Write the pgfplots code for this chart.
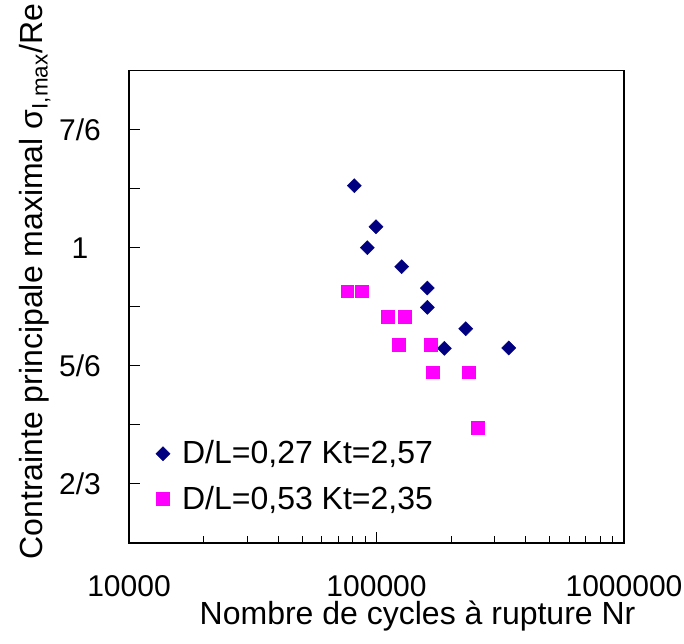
\documentclass[border=0pt]{standalone}
\usepackage{fontspec}
\setmainfont{Liberation Sans}
\usepackage{pgfplots}
\pgfplotsset{compat=1.18}
\definecolor{dnavy}{RGB}{0,0,128}
\definecolor{dmag}{RGB}{255,0,255}
\begin{document}
\begin{tikzpicture}
\path[use as bounding box] (-64.5pt,-50pt) rectangle (277.5pt,271.5pt);
\begin{axis}[
  scale only axis, width=247.5pt, height=236.25pt,
  xmode=log, xmin=1e4, xmax=1e6, ymin=0.583333, ymax=1.25,
  xtick={1e4,1e5,1e6}, xticklabels={10000,100000,1000000},
  ytick={0.666667,0.75,0.833333,0.916667,1,1.083333,1.166667},
  yticklabels={2/3,,5/6,,1,,7/6},
  tick align=inside, xtick pos=left, ytick pos=left,
  major tick length=5.5pt, minor tick length=3.3pt,
  tick style={black, line width=0.5pt},
  axis line style={black, line width=0.75pt},
  ticklabel style={font=\fontsize{15}{18}\selectfont},
  xticklabel style={inner sep=0pt, yshift=-16pt},
  yticklabel style={anchor=center, xshift=-24.5pt},
  xlabel={Nombre de cycles à rupture Nr},
  xlabel style={at={(axis description cs:0.583,-0.1555)}, anchor=center, inner sep=0pt, font=\fontsize{16}{19}\selectfont},
  ylabel={Contrainte principale maximal σ\textsubscript{I,max}/Re},
  ylabel style={at={(axis description cs:-0.19,0.553)}, anchor=center, font=\fontsize{16}{19}\selectfont},
  legend style={draw=none, fill=none, at={(axis description cs:0.0415,0.141)}, anchor=west,
    font=\fontsize{16}{19}\selectfont, row sep=5.5pt, column sep=4pt},
  legend cell align=left,
  legend image code/.code={\draw[mark repeat=2,mark phase=2,#1] plot coordinates {(0cm,0cm) (0.15cm,0cm) (0.3cm,0cm)};},
]
\addplot[only marks, mark=square*, mark size=2.5pt, mark options={rotate=45, fill=dnavy, draw=dnavy, line width=0.2pt}]
coordinates {
(81340,1.0875)
(99540,1.0296)
(91800,1.0000)
(126400,0.9732)
(160500,0.9431)
(160500,0.9159)
(229300,0.8857)
(187900,0.8580)
(342000,0.8585)
};
\addlegendentry{D/L=0,27 Kt=2,57}
\addplot[only marks, mark=square*, mark size=3.2pt, mark options={fill=dmag, draw=dmag, line width=0.2pt}]
coordinates {
(76210,0.9385)
(86820,0.9385)
(111000,0.9022)
(130000,0.9022)
(122500,0.8631)
(165000,0.8631)
(168100,0.8242)
(236400,0.8242)
(256400,0.7456)
};
\addlegendentry{D/L=0,53 Kt=2,35}
\end{axis}
\end{tikzpicture}
\end{document}
